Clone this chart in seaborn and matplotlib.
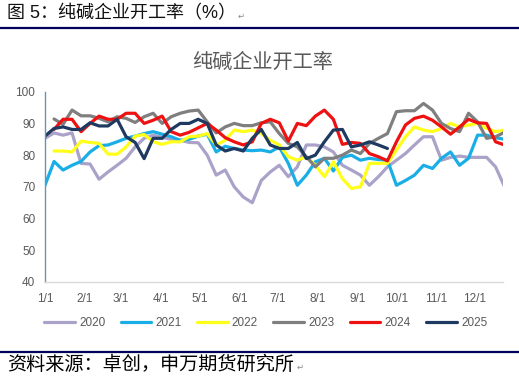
import numpy as np
import pandas as pd
import matplotlib
matplotlib.use('Agg')
import matplotlib.pyplot as plt
import seaborn as sns
from matplotlib.lines import Line2D

# weekly operating rate of soda ash plants (%), one value per week from 1/1
years = ['2020', '2021', '2022', '2023', '2024', '2025']
nan = np.nan
rate_2020 = [85.3, 87.0, 86.3, 87.0, 77.4, 77.2, 72.4, 74.7, 76.8, 79.0, 82.6, 85.3, 86.3,
             85.6, 85.0, 84.7, 84.0, 83.9, 80.0, 73.7, 75.3, 70.0, 66.8, 65.0, 72.0, 74.7,
             76.8, 73.2, 76.3, 83.2, 83.2, 82.6, 81.0, 76.8, 75.3, 73.7, 70.5, 73.2, 76.3,
             78.4, 80.5, 83.2, 85.8, 85.8, 78.4, 79.3, 79.7, 79.3, 79.3, 79.3, 76.3, 70.0]
rate_2021 = [70.5, 78.0, 75.3, 76.8, 78.0, 81.0, 83.0, 83.2, 84.2, 85.3, 86.0, 86.8, 87.4,
             86.6, 85.8, 84.7, 85.0, 86.0, 86.6, 81.0, 82.8, 82.1, 81.6, 81.4, 81.6, 81.0,
             82.6, 77.4, 70.5, 73.7, 77.9, 79.0, 75.0, 79.3, 80.0, 78.4, 79.0, 78.6, 78.4,
             70.5, 72.0, 73.7, 76.8, 75.8, 79.0, 81.0, 76.8, 79.0, 86.3, 86.3, 85.5, 85.0]
rate_2022 = [nan, 81.3, 81.3, 81.0, 84.4, 84.0, 83.7, 80.3, 80.3, 82.6, 86.0, 86.5, 84.2,
             83.4, 84.2, 84.2, 85.8, 86.0, 86.8, 83.2, 84.7, 87.9, 87.4, 87.9, 86.8, 84.7,
             83.2, 79.5, 78.4, 79.5, 76.8, 73.2, 77.9, 72.6, 69.5, 70.0, 77.4, 77.4, 77.4,
             81.6, 85.8, 88.9, 87.9, 87.4, 88.4, 90.0, 88.9, 89.5, 90.0, 88.4, 87.4, 87.9]
rate_2023 = [nan, 91.4, 89.7, 94.2, 92.4, 92.4, 91.6, 90.5, 92.1, 91.6, 90.3, 92.1, 93.2,
             90.0, 92.1, 93.2, 93.9, 94.2, 90.5, 87.0, 88.9, 90.0, 89.3, 89.3, 90.2, 90.5,
             86.8, 83.7, 82.6, 79.5, 76.3, 79.0, 79.0, 80.0, 81.6, 80.5, 83.7, 85.3, 86.8,
             93.7, 94.0, 94.0, 96.3, 94.2, 90.0, 88.4, 87.4, 93.2, 90.5, 85.3, 85.8, 87.2]
rate_2024 = [nan, 88.1, 91.3, 91.3, 87.4, 90.0, 92.3, 91.3, 91.3, 93.2, 93.2, 90.0, 91.0,
             92.3, 87.4, 86.3, 87.2, 88.6, 90.0, 87.9, 85.5, 84.2, 83.2, 84.2, 90.0, 91.3,
             90.2, 84.4, 90.0, 89.3, 92.3, 94.2, 91.3, 83.4, 84.0, 83.7, 80.5, 79.5, 78.2,
             84.2, 89.5, 91.6, 92.3, 91.0, 88.9, 86.6, 88.9, 91.3, 90.2, 90.0, 84.2, 83.2]
rate_2025 = [86.0, 88.4, 88.9, 88.1, 88.1, 90.2, 89.2, 89.2, 91.3, 85.8, 84.0, 78.9, 85.3,
             85.3, 88.1, 90.0, 90.0, 91.3, 90.0, 83.2, 81.3, 82.1, 81.3, 85.3, 88.1, 83.2,
             82.1, 82.1, 84.0, 78.9, 80.0, 84.2, 87.9, 88.1, 82.6, 83.2, 84.2, 83.2, 82.1]
month_labels = ['1/1', '2/1', '3/1', '4/1', '5/1', '6/1', '7/1', '8/1', '9/1', '10/1', '11/1', '12/1']
y_ticks = [40, 50, 60, 70, 80, 90, 100]

palette = {'2020': '#ABA2C9', '2021': '#1AAEE6', '2022': '#FFFF1A',
           '2023': '#7F7F7F', '2024': '#EE1111', '2025': '#1F3A60'}

series = [rate_2020, rate_2021, rate_2022, rate_2023, rate_2024, rate_2025]
frames = []
for yr, vals in zip(years, series):
    frames.append(pd.DataFrame({'day': np.arange(len(vals)) * 7, 'rate': vals, 'year': yr}))
df = pd.concat(frames).dropna()

month_days = pd.to_datetime([f'2023-{m:02d}-01' for m in range(1, 13)]).dayofyear - 1

sns.set_style('white')
plt.rcParams['font.family'] = ['Liberation Sans', 'Noto Sans CJK SC', 'DejaVu Sans']

fig = plt.figure(figsize=(5.19, 3.82), dpi=100)
ax = fig.add_axes([45 / 519, 1 - 282 / 382, 458.3 / 519, 190.3 / 382])

sns.lineplot(data=df, x='day', y='rate', hue='year', palette=palette, hue_order=years,
             linewidth=2.3, errorbar=None, legend=False, ax=ax)

ax.set_xlim(0, 356)
ax.set_ylim(40, 100)
ax.set_xticks(month_days)
ax.set_xticklabels(month_labels)
ax.set_yticks(y_ticks)
ax.set_xlabel('')
ax.set_ylabel('')
for s in ['top', 'right']:
    ax.spines[s].set_visible(False)
ax.spines['left'].set_color('#7090B0')
ax.spines['left'].set_linewidth(1)
ax.spines['bottom'].set_color('#D9D9D9')
ax.spines['bottom'].set_linewidth(1)
ax.tick_params(axis='x', direction='out', length=5, width=1, color='#D9D9D9',
               labelsize=8.5, labelcolor='#595959', pad=3)
ax.tick_params(axis='y', direction='in', length=4, width=1, color='#7090B0',
               labelsize=8.5, labelcolor='#595959', pad=7)

fig.text(0.506, 1 - 62 / 382, '纯碱企业开工率', ha='center', va='center',
         fontsize=14.5, color='#595959')

handles = [Line2D([], [], color=palette[y], lw=2.3) for y in years]
fig.legend(handles, years, loc='center', bbox_to_anchor=(0.512, 1 - 323 / 382), ncol=6,
           frameon=False, fontsize=8.5, labelcolor='#595959', handlelength=2.6,
           handletextpad=0.35, columnspacing=1.3)

# caption, rules and source
fig.text(7 / 519, 1 - 14 / 382, '图 5：纯碱企业开工率（%）', ha='left', va='center',
         fontsize=13, color='#111111')
fig.text(238 / 519, 1 - 16 / 382, '↵', ha='left', va='center', fontsize=6,
         color='#888888', family=['DejaVu Sans'])
fig.add_artist(Line2D([0, 1], [1 - 28 / 382] * 2, color='#00005A', lw=1.6,
                      transform=fig.transFigure))
fig.add_artist(Line2D([0, 1], [1 - 352 / 382] * 2, color='#00005A', lw=1.6,
                      transform=fig.transFigure))
fig.text(7 / 519, 1 - 365 / 382, '资料来源：卓创，申万期货研究所', ha='left', va='center',
         fontsize=13.8, color='#000000')
fig.text(297 / 519, 1 - 367 / 382, '↵', ha='left', va='center', fontsize=6,
         color='#888888', family=['DejaVu Sans'])

fig.savefig('out.png', dpi=100)
